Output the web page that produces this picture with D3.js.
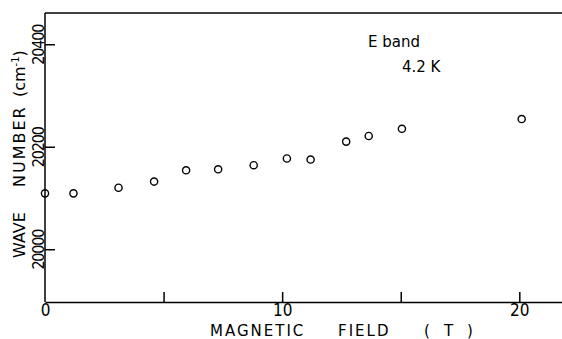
<!doctype html>
<html>
<head>
    <meta http-equiv="Content-type" content="text/html; charset=utf-8"/>
    <script src="https://d3js.org/d3.v7.min.js"></script>
    <style>
        body { margin: 0; background: #fff; }
        svg { display: block; }
        .lbl { font-family: "DejaVu Sans", sans-serif; fill: #000; }
        .axis path, .axis line { stroke: #000; stroke-width: 1.5; }
        .axis text { font-family: "DejaVu Sans Condensed", "DejaVu Sans", sans-serif; fill: #000; }
    </style>
</head>
<body>
    <svg width="562" height="339"></svg>
    <script>
        // magnetic field (T) and wave number (cm^-1)
        var field = [0, 1.2, 3.1, 4.6, 5.95, 7.3, 8.8, 10.2, 11.2, 12.7, 13.65, 15.05, 20.1];
        var wave = [20109, 20109, 20120, 20132, 20154, 20156, 20164, 20177, 20175, 20210, 20221, 20235, 20254];
        var xTicks = [5, 10, 15, 20];
        var xLabels = [0, 10, 20];
        var yTicks = [20000, 20200, 20400];

        var svg = d3.select("svg");

        var x = d3.scaleLinear().domain([0, 21.8]).range([45, 562]);
        var y = d3.scaleLinear().domain([19897, 20461]).range([302, 13]);

        // top frame line
        svg.append("line")
            .attr("x1", x(0)).attr("x2", 562)
            .attr("y1", y(20461)).attr("y2", y(20461))
            .attr("stroke", "#000").attr("stroke-width", 1.5);

        // x axis, ticks pointing inward
        var xg = svg.append("g")
            .attr("class", "axis")
            .attr("transform", "translate(0," + y(19897) + ")")
            .call(d3.axisBottom(x)
                .tickValues([0].concat(xTicks))
                .tickSizeInner(-10)
                .tickSizeOuter(0)
                .tickPadding(2)
                .tickFormat(function(d) { return xLabels.indexOf(d) >= 0 ? d : ""; }));
        xg.selectAll(".tick text").style("font-size", "17px");
        xg.selectAll(".tick line").filter(function(d) { return d === 0; }).remove();

        // y axis, ticks inward, rotated labels
        var yg = svg.append("g")
            .attr("class", "axis")
            .attr("transform", "translate(" + x(0) + ",0)")
            .call(d3.axisLeft(y)
                .tickValues(yTicks)
                .tickSizeInner(-10)
                .tickSizeOuter(0)
                .tickFormat(d3.format("d")));
        yg.select(".domain").attr("d", "M0," + y(19897) + "V" + y(20461));
        yg.selectAll(".tick text")
            .attr("transform", "rotate(-90)")
            .attr("x", 0).attr("y", -1).attr("dy", 0)
            .attr("text-anchor", "middle")
            .style("font-size", "16px")
            .style("letter-spacing", "-1.2px");

        // data points
        svg.selectAll("circle.pt")
            .data(field)
            .enter()
            .append("circle")
            .attr("class", "pt")
            .attr("cx", function(d) { return x(d); })
            .attr("cy", function(d, i) { return y(wave[i]); })
            .attr("r", 3.6)
            .attr("fill", "none")
            .attr("stroke", "#000")
            .attr("stroke-width", 1.4);

        // x axis title, words spaced out like the original
        var xt = svg.append("text")
            .attr("class", "lbl")
            .attr("y", 336)
            .style("font-size", "15px")
            .style("letter-spacing", "2px");
        xt.append("tspan").attr("x", 210).text("MAGNETIC");
        xt.append("tspan").attr("x", 338).text("FIELD");
        xt.append("tspan").attr("x", 424).text("(");
        xt.append("tspan").attr("x", 444).text("T");
        xt.append("tspan").attr("x", 467).text(")");

        // y axis title
        var yt = svg.append("text")
            .attr("class", "lbl")
            .attr("transform", "translate(25,258) rotate(-90)")
            .style("font-size", "16px");
        yt.append("tspan").attr("x", 0).text("WAVE");
        yt.append("tspan").attr("x", 71).style("letter-spacing", "2px").text("NUMBER");
        yt.append("tspan").attr("x", 161).text("(cm");
        yt.append("tspan").attr("dy", -6).style("font-size", "10px").text("-1");
        yt.append("tspan").attr("dy", 6).text(")");

        svg.append("text").attr("class", "lbl")
            .attr("x", 368).attr("y", 47)
            .style("font-size", "15px")
            .text("E band");
        svg.append("text").attr("class", "lbl")
            .attr("x", 402).attr("y", 72)
            .style("font-size", "15px")
            .text("4.2 K");
    </script>
</body>
</html>
